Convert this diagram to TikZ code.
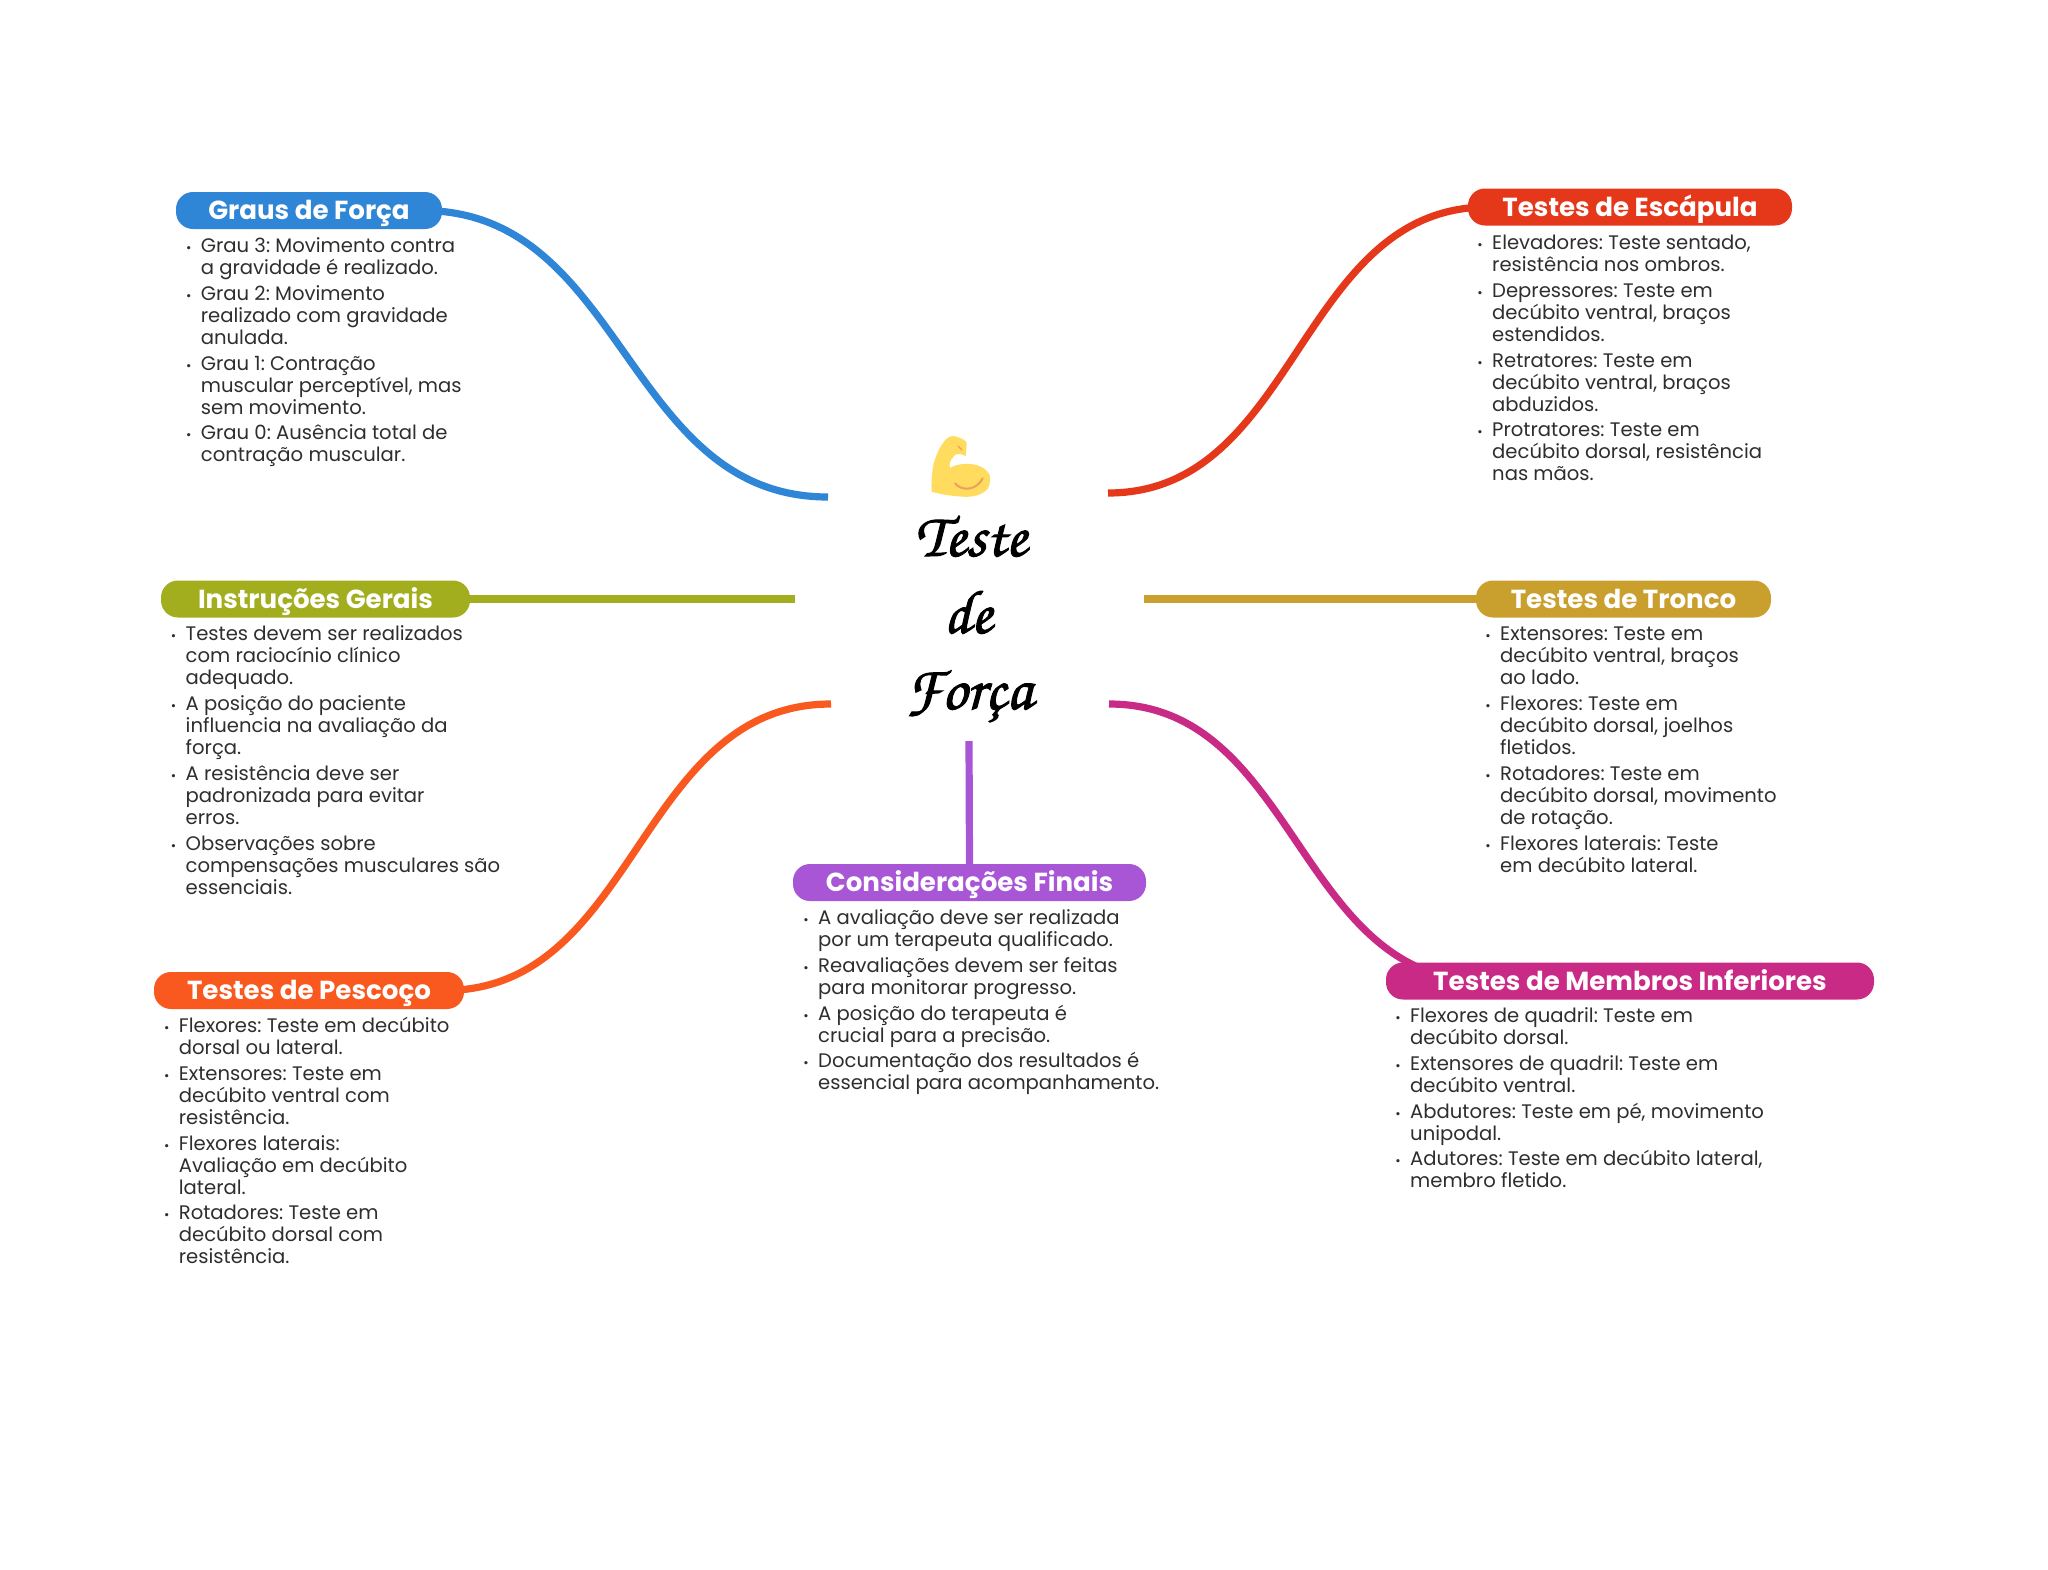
\documentclass[tikz,border=0pt]{standalone}
\usepackage{fontspec}
\setmainfont{Poppins}
\usetikzlibrary{calc,backgrounds}
\frenchspacing
\definecolor{cblue}{HTML}{2F86D6}
\definecolor{cred}{HTML}{E5381A}
\definecolor{cgreen}{HTML}{A3AE1E}
\definecolor{cgold}{HTML}{C9A02E}
\definecolor{cpurple}{HTML}{A855D6}
\definecolor{corange}{HTML}{F9591F}
\definecolor{cmag}{HTML}{C92A85}
\definecolor{bodyc}{HTML}{2E2E2E}
\definecolor{armc}{HTML}{FFDB5E}
\definecolor{armd}{HTML}{EE9F5C}
\newcommand{\itm}[1]{\makebox[0pt][r]{{\fontsize{13}{13}\selectfont •}\hspace{9.5pt}}#1}
\newcommand{\fst}{\rule{0pt}{16pt}}
\newcommand{\gap}{\\[3.9pt]}
\newcommand{\heavy}[1]{\special{pdf:code 2 Tr 1 w}#1\special{pdf:code 0 Tr}}
\tikzset{
  pill/.style={rectangle,rounded corners=17pt,inner sep=0pt,text=white,text height=18.5pt,text depth=0pt,
    font=\fontsize{26.1}{30}\selectfont\bfseries},
  listbox/.style={anchor=north west,inner sep=0pt,align=left,text=bodyc,
    font=\fontsize{19.6}{22}\selectfont},
  link/.style={line width=7.2pt,line cap=butt},
  titletext/.style={inner sep=0pt,anchor=base,font=\fontsize{62}{70}\usefont{T1}{pzc}{mb}{it}}
}
\begin{document}
\begin{tikzpicture}[x=1pt,y=-1pt]
\useasboundingbox (0,0) rectangle (2048,1569);
% free ends near the centre
\coordinate (eg) at (828,497);
\coordinate (ee) at (1108,493);
\coordinate (ei) at (795,599);
\coordinate (et) at (1144,599);
\coordinate (ep) at (831,704);
\coordinate (em) at (1109,704);
\coordinate (ec) at (969,741);
% pills
\node[pill,fill=cblue,minimum width=266pt,minimum height=37pt] (graus) at (309,210.5) {Graus de Força};
\node[pill,fill=cred,minimum width=324pt,minimum height=37pt] (esc) at (1630,207) {Testes de Escápula};
\node[pill,fill=cgreen,minimum width=309pt,minimum height=37pt] (inst) at (315.5,599) {Instruções Gerais};
\node[pill,fill=cgold,minimum width=295pt,minimum height=37pt] (tronco) at (1623.5,599) {Testes de Tronco};
\node[pill,fill=cpurple,minimum width=353pt,minimum height=37pt] (cons) at (969.5,882.5) {Considerações Finais};
\node[pill,fill=corange,minimum width=310pt,minimum height=37pt] (pesc) at (309,990.5) {Testes de Pescoço};
\node[pill,fill=cmag,minimum width=488pt,minimum height=37pt] (memb) at (1630,981) {Testes de Membros Inferiores};
% connectors
\begin{scope}[on background layer]
\draw[link,cblue] ($(graus.east)+(-20,0)$) .. controls (625,210.5) and (625,497) .. (eg);
\draw[link,cred] (ee) .. controls (1298,493) and (1298,207) .. ($(esc.west)+(20,0)$);
\draw[link,cgreen] (inst.east) -- (ei);
\draw[link,cgold] (et) -- (tronco.west);
\draw[link,corange] ($(pesc.east)+(-20,0)$) .. controls (637.5,990.5) and (637.5,704) .. (ep);
\draw[link,cmag] (em) .. controls (1297,704) and (1297,981) .. ($(memb.west)+(99,0)$);
\draw[link,cpurple] (ec) -- (cons.north);
\end{scope}
% centre
\fill[armc] (953.3,436) .. controls (960,437) and (967,441) .. (966.7,443.3)
  -- (965.7,456) .. controls (960,453) and (955,453) .. (953,457.3)
  .. controls (950,460) and (949,465) .. (950,468)
  .. controls (957,463) and (975,462) .. (983,468)
  .. controls (989,472) and (991,476) .. (990,480)
  .. controls (990,487) and (987,491) .. (981.7,493.3)
  .. controls (975,497) and (968,497) .. (963,496.7)
  .. controls (950,496) and (940,494) .. (931.7,491.7)
  .. controls (931,483) and (932,473) .. (933,466.7)
  .. controls (935,458) and (938,450) .. (943,443)
  .. controls (946,438) and (950,436) .. (953.3,436) -- cycle;
\draw[armd,line width=2pt,line cap=round] (955,483.3) .. controls (962,492) and (977,490) .. (982.7,478.3);
\draw[armd,line width=1.2pt,line cap=round] (958,446) -- (962,450);
\node[titletext] (t1) at (971,556) {\heavy{Teste}};
\node[titletext] (t2) at (968,633) {\heavy{de}};
\node[titletext] (t3) at (969,709) {\heavy{Força}};
% lists
\node[listbox] (lg) at (200.7,236) {\fst\itm{Grau 3: Movimento contra}\\a gravidade é realizado.\gap
\itm{Grau 2: Movimento}\\realizado com gravidade\\anulada.\gap
\itm{Grau 1: Contração}\\muscular perceptível, mas\\sem movimento.\gap
\itm{Grau 0: Ausência total de}\\contração muscular.};
\node[listbox] (le) at (1492,233) {\fst\itm{Elevadores: Teste sentado,}\\resistência nos ombros.\gap
\itm{Depressores: Teste em}\\decúbito ventral, braços\\estendidos.\gap
\itm{Retratores: Teste em}\\decúbito ventral, braços\\abduzidos.\gap
\itm{Protratores: Teste em}\\decúbito dorsal, resistência\\nas mãos.};
\node[listbox] (li) at (185.5,624.5) {\fst\itm{Testes devem ser realizados}\\com raciocínio clínico\\adequado.\gap
\itm{A posição do paciente}\\influencia na avaliação da\\força.\gap
\itm{A resistência deve ser}\\padronizada para evitar\\erros.\gap
\itm{Observações sobre}\\compensações musculares são\\essenciais.};
\node[listbox] (lt) at (1500,624.5) {\fst\itm{Extensores: Teste em}\\decúbito ventral, braços\\ao lado.\gap
\itm{Flexores: Teste em}\\decúbito dorsal, joelhos\\fletidos.\gap
\itm{Rotadores: Teste em}\\decúbito dorsal, movimento\\de rotação.\gap
\itm{Flexores laterais: Teste}\\em decúbito lateral.};
\node[listbox] (lc) at (818,908) {\fst\itm{A avaliação deve ser realizada}\\por um terapeuta qualificado.\gap
\itm{Reavaliações devem ser feitas}\\para monitorar progresso.\gap
\itm{A posição do terapeuta é}\\crucial para a precisão.\gap
\itm{Documentação dos resultados é}\\essencial para acompanhamento.};
\node[listbox] (lp) at (178.7,1016) {\fst\itm{Flexores: Teste em decúbito}\\dorsal ou lateral.\gap
\itm{Extensores: Teste em}\\decúbito ventral com\\resistência.\gap
\itm{Flexores laterais:}\\Avaliação em decúbito\\lateral.\gap
\itm{Rotadores: Teste em}\\decúbito dorsal com\\resistência.};
\node[listbox] (lm) at (1410,1006) {\fst\itm{Flexores de quadril: Teste em}\\decúbito dorsal.\gap
\itm{Extensores de quadril: Teste em}\\decúbito ventral.\gap
\itm{Abdutores: Teste em pé, movimento}\\unipodal.\gap
\itm{Adutores: Teste em decúbito lateral,}\\membro fletido.};
\end{tikzpicture}
\end{document}
